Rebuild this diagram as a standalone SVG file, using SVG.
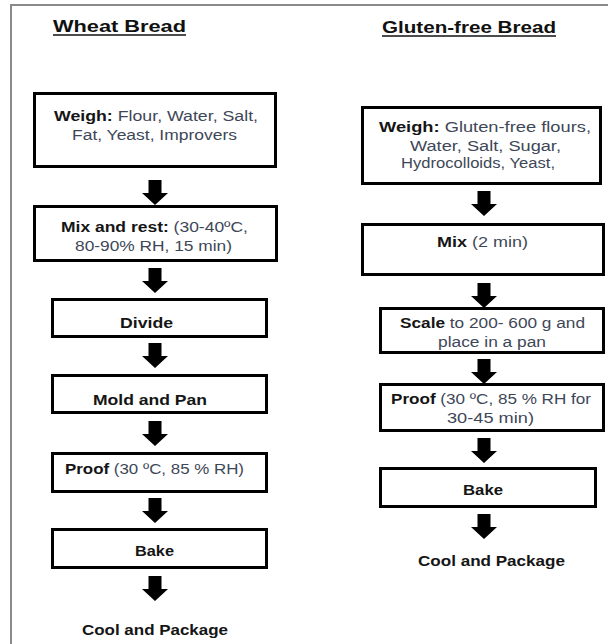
<svg xmlns="http://www.w3.org/2000/svg" width="608" height="644" viewBox="0 0 608 644">
<defs>
<style>
.frame{fill:none;stroke:#8a8a8a;stroke-width:2}
.box{fill:#fff;stroke:#000;stroke-width:3}
.t{font-family:"Liberation Sans",Arial,sans-serif;font-size:14px;fill:#3e4757}
.b{font-weight:bold;fill:#151515}
.title{font-family:"Liberation Sans",Arial,sans-serif;font-size:17px;font-weight:bold;fill:#111}
.ul{stroke:#111;stroke-width:1.5}
.arr{fill:#000}
</style>
<path id="arrow" d="M-6.5,0 H6.5 V13 H13 L0,25 L-13,13 H-6.5 Z"/>
</defs>
<rect x="0" y="0" width="608" height="644" fill="#fff"/>
<path class="frame" d="M11,644 V5 H608"/>

<g id="title-wheat">
<text class="title" x="53" y="32" textLength="133" lengthAdjust="spacingAndGlyphs">Wheat  Bread</text>
<line class="ul" x1="53" y1="35" x2="186" y2="35"/>
</g>
<g id="title-gf">
<text class="title" x="382" y="33" textLength="174" lengthAdjust="spacingAndGlyphs">Gluten-free Bread</text>
<line class="ul" x1="382" y1="36" x2="556" y2="36"/>
</g>

<g id="w-weigh">
<rect class="box" x="34.5" y="93.5" width="241" height="73"/>
<text class="t" x="54" y="121" textLength="204" lengthAdjust="spacingAndGlyphs"><tspan class="b">Weigh:</tspan> Flour, Water, Salt,</text>
<text class="t" x="72" y="140" textLength="165" lengthAdjust="spacingAndGlyphs">Fat, Yeast, Improvers</text>
</g>
<g id="w-mix">
<rect class="box" x="34.5" y="206.5" width="242" height="54"/>
<text class="t" x="61" y="232" textLength="187" lengthAdjust="spacingAndGlyphs"><tspan class="b">Mix and rest:</tspan> (30-40ºC,</text>
<text class="t" x="75" y="251" textLength="157" lengthAdjust="spacingAndGlyphs">80-90% RH, 15 min)</text>
</g>
<g id="w-divide">
<rect class="box" x="52.5" y="299.5" width="214" height="37"/>
<text class="t b" x="120" y="328" textLength="53" lengthAdjust="spacingAndGlyphs">Divide</text>
</g>
<g id="w-mold">
<rect class="box" x="52.5" y="375.5" width="214" height="37"/>
<text class="t b" x="93" y="405" textLength="114" lengthAdjust="spacingAndGlyphs">Mold and Pan</text>
</g>
<g id="w-proof">
<rect class="box" x="52.5" y="453.5" width="214" height="38"/>
<text class="t" x="65" y="474" textLength="179" lengthAdjust="spacingAndGlyphs"><tspan class="b">Proof</tspan> (30 ºC, 85 % RH)</text>
</g>
<g id="w-bake">
<rect class="box" x="52.5" y="529.5" width="214" height="38"/>
<text class="t b" x="135" y="556" textLength="39" lengthAdjust="spacingAndGlyphs">Bake</text>
</g>
<g id="w-cool">
<text class="t b" x="82" y="635" textLength="146" lengthAdjust="spacingAndGlyphs">Cool and Package</text>
</g>

<g id="g-weigh">
<rect class="box" x="362.5" y="107.5" width="238" height="76"/>
<text class="t" x="379" y="132" textLength="212" lengthAdjust="spacingAndGlyphs"><tspan class="b">Weigh:</tspan> Gluten-free flours,</text>
<text class="t" x="410" y="151" textLength="151" lengthAdjust="spacingAndGlyphs">Water, Salt, Sugar,</text>
<text class="t" x="401" y="168" textLength="154" lengthAdjust="spacingAndGlyphs">Hydrocolloids, Yeast,</text>
</g>
<g id="g-mix">
<rect class="box" x="362.5" y="224.5" width="241" height="50"/>
<text class="t" x="437" y="247" textLength="91" lengthAdjust="spacingAndGlyphs"><tspan class="b">Mix</tspan> (2 min)</text>
</g>
<g id="g-scale">
<rect class="box" x="380.5" y="308.5" width="223" height="44"/>
<text class="t" x="400" y="328" textLength="185" lengthAdjust="spacingAndGlyphs"><tspan class="b">Scale</tspan> to 200- 600 g and</text>
<text class="t" x="438" y="347" textLength="108" lengthAdjust="spacingAndGlyphs">place in a pan</text>
</g>
<g id="g-proof">
<rect class="box" x="380.5" y="384.5" width="223" height="46"/>
<text class="t" x="391" y="404" textLength="200" lengthAdjust="spacingAndGlyphs"><tspan class="b">Proof</tspan> (30 ºC, 85 % RH for</text>
<text class="t" x="447" y="423" textLength="87" lengthAdjust="spacingAndGlyphs">30-45 min)</text>
</g>
<g id="g-bake">
<rect class="box" x="380.5" y="468.5" width="215" height="38"/>
<text class="t b" x="463" y="495" textLength="40" lengthAdjust="spacingAndGlyphs">Bake</text>
</g>
<g id="g-cool">
<text class="t b" x="418" y="566" textLength="147" lengthAdjust="spacingAndGlyphs">Cool and Package</text>
</g>

<g id="connectors" class="arr">
<use href="#arrow" x="155" y="180"/>
<use href="#arrow" x="155" y="268"/>
<use href="#arrow" x="155" y="343"/>
<use href="#arrow" x="155" y="421"/>
<use href="#arrow" x="155" y="498"/>
<use href="#arrow" x="155" y="576"/>
<use href="#arrow" x="484" y="191"/>
<use href="#arrow" x="484" y="283"/>
<use href="#arrow" x="484" y="359"/>
<use href="#arrow" x="484" y="438"/>
<use href="#arrow" x="484" y="514"/>
</g>
</svg>
